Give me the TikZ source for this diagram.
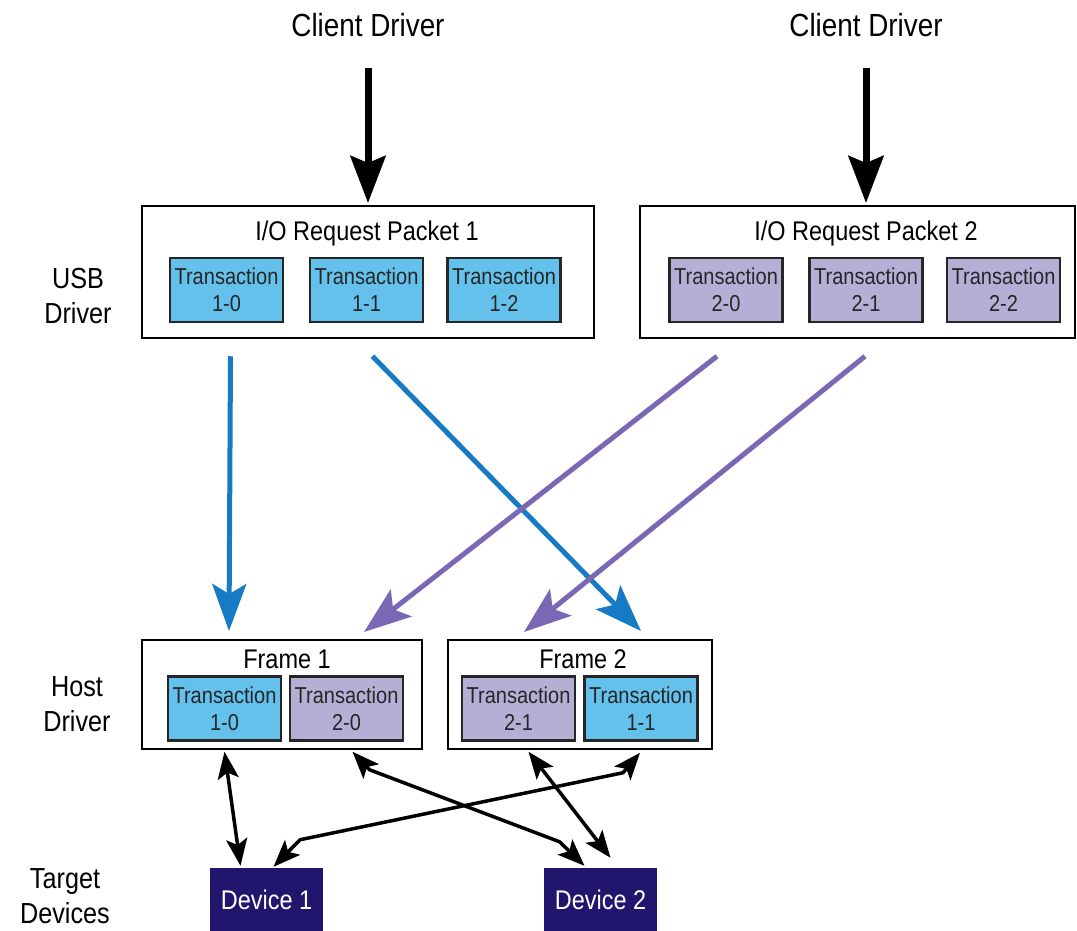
\documentclass[tikz,border=0pt]{standalone}
\usepackage{fontspec}
\setmainfont{Liberation Sans}[FakeStretch=0.87]
\usetikzlibrary{arrows.meta}
\definecolor{txblue}{RGB}{99,193,236}
\definecolor{txpurple}{RGB}{183,174,214}
\definecolor{devnavy}{RGB}{33,22,110}
\definecolor{arrblue}{RGB}{22,122,196}
\definecolor{arrpurple}{RGB}{122,104,180}
\begin{document}
\begin{tikzpicture}[x=1pt, y=-1pt,
	box/.style={draw, line width=2pt, inner sep=0pt},
	tx/.style={draw=black!85, line width=2.5pt, minimum width=113pt, minimum height=64pt, inner sep=0pt, align=center, font=\fontsize{23}{27}\selectfont, text=black!85},
	txb/.style={tx, fill=txblue},
	txp/.style={tx, fill=txpurple},
	dev/.style={fill=devnavy, minimum width=113pt, minimum height=64pt, inner sep=0pt, text=white, font=\fontsize{27}{32}\selectfont},
	head/.style={inner sep=0pt, font=\fontsize{27}{32}\selectfont},
	side/.style={inner sep=0pt, align=center, font=\fontsize{29}{35}\selectfont},
	clientarrow/.style={line width=7pt, -{Stealth[length=47pt, width=35pt, inset=7pt]}},
	bluearrow/.style={arrblue, line width=5pt, -{Stealth[length=47pt, width=34pt, inset=10pt]}},
	purplearrow/.style={arrpurple, line width=5pt, -{Stealth[length=47pt, width=34pt, inset=10pt]}},
	linkarrow/.style={line width=3.5pt, line join=round, {Stealth[length=27pt, width=21pt, inset=6pt]}-{Stealth[length=27pt, width=21pt, inset=6pt]}}]
	\useasboundingbox (0,0) rectangle (1077,931);
	
	% clients
	\node[inner sep=0pt, font=\fontsize{32}{38}\selectfont] (client1) at (368,25) {Client Driver};
	\node[inner sep=0pt, font=\fontsize{32}{38}\selectfont] (client2) at (866,25) {Client Driver};
	
	% side labels
	\node[side] (usb) at (78,296) {USB\\Driver};
	\node[side] (host) at (77,704) {Host\\Driver};
	\node[side] (target) at (65,896) {Target\\Devices};
	
	% request packets
	\node[box, minimum width=452pt, minimum height=132pt] (irp1) at (368,272) {};
	\node[box, minimum width=435pt, minimum height=132pt] (irp2) at (857.5,272) {};
	\node[head] (irp1lbl) at (367,234) {I/O Request Packet 1};
	\node[head] (irp2lbl) at (866,234) {I/O Request Packet 2};
	\node[txb] (t10a) at (226.5,290) {Transaction\\1-0};
	\node[txb] (t11a) at (366.5,290) {Transaction\\1-1};
	\node[txb] (t12a) at (504,290) {Transaction\\1-2};
	\node[txp] (t20a) at (726,290) {Transaction\\2-0};
	\node[txp] (t21a) at (866,290) {Transaction\\2-1};
	\node[txp] (t22a) at (1003.5,290) {Transaction\\2-2};
	
	% frames
	\node[box, minimum width=280pt, minimum height=109pt] (fr1) at (282,694.5) {};
	\node[box, minimum width=264pt, minimum height=109pt] (fr2) at (580,694.5) {};
	\node[head] (fr1lbl) at (287,659) {Frame 1};
	\node[head] (fr2lbl) at (583,659) {Frame 2};
	\node[txb] (f10) at (224.5,708.5) {Transaction\\1-0};
	\node[txp] (f20) at (346.5,708.5) {Transaction\\2-0};
	\node[txp] (f21) at (518.5,708.5) {Transaction\\2-1};
	\node[txb] (f11) at (641,708.5) {Transaction\\1-1};
	
	% devices
	\node[dev] (dev1) at (266.5,900) {Device 1};
	\node[dev] (dev2) at (600.5,900) {Device 2};
	
	% arrows
	\draw[clientarrow] ([yshift=-31pt]client1.south) -- ([yshift=2pt]irp1.north);
	\draw[clientarrow] ([yshift=-31pt]client2.south) -- ([yshift=2pt]client2.south |- irp2.north);
	
	\draw[bluearrow] ([shift={(4,33)}]t10a.south) -- ([shift={(88,-8)}]fr1.north west);
	\draw[bluearrow] ([shift={(6,33)}]t11a.south) -- ([shift={(-72,-8)}]fr2.north east);
	\draw[purplearrow] ([shift={(-9,33)}]t20a.south) -- ([shift={(-59,-7)}]fr1.north east);
	\draw[purplearrow] ([shift={(-1,33)}]t21a.south) -- ([shift={(77,-7)}]fr2.north west);
	
	\draw[linkarrow] ([shift={(0,10)}]f10.south) -- ([shift={(-26,-2)}]dev1.north);
	\draw[linkarrow] ([shift={(6,10)}]f20.south) -- ++(17,18) -- ++(190,72) -- ([shift={(-16,-2)}]dev2.north);
	\draw[linkarrow] ([shift={(-1,11)}]f11.south) -- ++(-17,20) -- ++(-323,67) -- ([shift={(7,-1)}]dev1.north);
	\draw[linkarrow] ([shift={(10,10)}]f21.south) -- ([shift={(10,-10)}]dev2.north);
\end{tikzpicture}
\end{document}
